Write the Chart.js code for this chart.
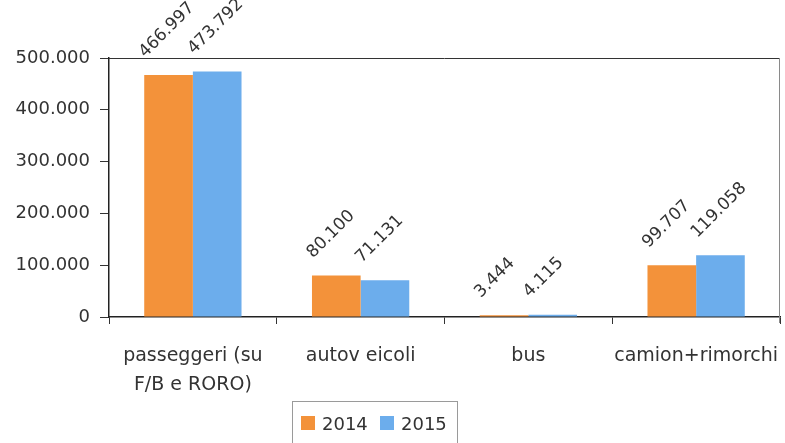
<!DOCTYPE html>
<html>
<head>
<meta charset="utf-8">
<script src="https://cdn.jsdelivr.net/npm/chart.js@4/dist/chart.umd.min.js"></script>
<style>
html,body{margin:0;padding:0;background:#fff;}
#wrap{width:785px;height:443px;position:relative;}
</style>
</head>
<body>
<div id="wrap"><canvas id="c" width="785" height="443"></canvas></div>
<script>
const categories = [["passeggeri (su", "F/B e RORO)"], "autov eicoli", "bus", "camion+rimorchi"];
const seriesNames = ["2014", "2015"];
const values2014 = [466997, 80100, 3444, 99707];
const values2015 = [473792, 71131, 4115, 119058];
const yTicks = [0, 100000, 200000, 300000, 400000, 500000];

const ORANGE = '#F3923A';
const BLUE = '#6CADEC';
const TEXT = '#333333';
const FONT = "'DejaVu Sans', sans-serif";

function fmt(n){ return String(Math.round(n)).replace(/\B(?=(\d{3})+(?!\d))/g, '.'); }

const frame = {
  id: 'frame',
  afterDraw(chart){
    const {ctx, chartArea:a} = chart;
    ctx.save();
    ctx.lineWidth = 1;
    ctx.strokeStyle = '#333';
    ctx.beginPath();
    ctx.moveTo(a.left, a.top + 0.5); ctx.lineTo(a.right, a.top + 0.5);
    ctx.stroke();
    ctx.strokeStyle = '#8a8a8a';
    ctx.beginPath();
    ctx.moveTo(a.right - 0.5, a.top); ctx.lineTo(a.right - 0.5, a.bottom + 6);
    ctx.stroke();
    ctx.restore();
  }
};

const valueLabels = {
  id: 'valueLabels',
  afterDatasetsDraw(chart){
    const ctx = chart.ctx;
    ctx.save();
    ctx.font = "17px " + FONT;
    ctx.fillStyle = TEXT;
    ctx.textAlign = 'left';
    ctx.textBaseline = 'alphabetic';
    chart.data.datasets.forEach((ds, di) => {
      const meta = chart.getDatasetMeta(di);
      meta.data.forEach((bar, i) => {
        const p = bar.getProps(['x','y','width'], true);
        ctx.save();
        ctx.translate(p.x - p.width/2 + 1, p.y - 17);
        ctx.rotate(-Math.PI/4);
        ctx.fillText(fmt(ds.data[i]), 0, 0);
        ctx.restore();
      });
    });
    ctx.restore();
  }
};

const boxLegend = {
  id: 'boxLegend',
  afterDraw(chart){
    const ctx = chart.ctx;
    ctx.save();
    ctx.strokeStyle = '#9a9a9a';
    ctx.lineWidth = 1;
    ctx.strokeRect(292.5, 401.5, 165, 50);
    ctx.font = "18px " + FONT;
    ctx.textBaseline = 'alphabetic';
    ctx.textAlign = 'left';
    let x = 301;
    chart.data.datasets.forEach(ds => {
      ctx.fillStyle = ds.backgroundColor;
      ctx.fillRect(x, 416, 14, 14);
      ctx.fillStyle = TEXT;
      ctx.fillText(ds.label, x + 21, 430);
      x += 79;
    });
    ctx.restore();
  }
};

new Chart(document.getElementById('c'), {
  type: 'bar',
  data: {
    labels: categories,
    datasets: [
      { label: seriesNames[0], data: values2014, backgroundColor: ORANGE, borderWidth: 0 },
      { label: seriesNames[1], data: values2015, backgroundColor: BLUE, borderWidth: 0 }
    ]
  },
  options: {
    responsive: false,
    animation: false,
    events: [],
    layout: { padding: { top: 58, right: 5, left: 0, bottom: 0 } },
    plugins: { legend: { display: false }, tooltip: { enabled: false } },
    datasets: { bar: { categoryPercentage: 0.58, barPercentage: 1.0 } },
    scales: {
      x: {
        offset: true,
        grid: { display: true, offset: true, drawOnChartArea: false, drawTicks: true, tickLength: 7, color: '#333' },
        border: { display: true, color: '#222', width: 1.5 },
        ticks: { color: TEXT, font: { family: FONT, size: 19, lineHeight: 1.55 }, padding: 17, maxRotation: 0, autoSkip: false },
        afterFit(s){ s.height = 126; s.paddingLeft = 0; s.paddingRight = 0; }
      },
      y: {
        min: 0, max: 500000,
        afterBuildTicks(s){ s.ticks = yTicks.map(v => ({ value: v })); },
        grid: { display: true, drawOnChartArea: false, drawTicks: true, tickLength: 9, color: '#333' },
        border: { display: true, color: '#222', width: 1.5 },
        ticks: { color: TEXT, font: { family: FONT, size: 18 }, padding: 10, callback: v => fmt(v) },
        afterFit(s){ s.width = 109; s.paddingTop = 0; s.paddingBottom = 0; }
      }
    }
  },
  plugins: [frame, valueLabels, boxLegend]
});
</script>
</body>
</html>
